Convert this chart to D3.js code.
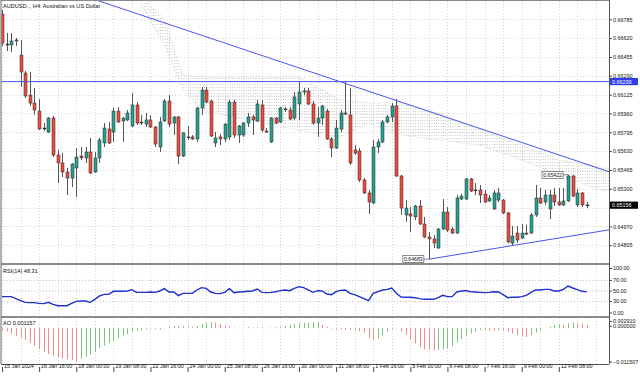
<!DOCTYPE html>
<html><head><meta charset="utf-8">
<script src="https://cdn.jsdelivr.net/npm/d3@7/dist/d3.min.js"></script>
<style>
html,body{margin:0;padding:0;background:#fff;overflow:hidden}
svg{display:block}
text{font-family:"Liberation Sans",Arial,sans-serif}
</style></head><body>
<svg id="chart" width="640" height="378"></svg>
<script>
const symbolTitle = "AUDUSD.., H4:  Australian vs US Dollar";

const openP = [0.66831,0.66568,0.66560,0.66595,0.66472,0.66314,0.66121,0.66051,0.65981,0.65824,
0.65797,0.65920,0.65596,0.65526,0.65447,0.65394,0.65482,0.65587,0.65570,0.65622,
0.65447,0.65570,0.65701,0.65824,0.65797,0.65981,0.65894,0.65903,0.65850,0.66034,
0.65885,0.65867,0.65903,0.65841,0.65666,0.65894,0.66069,0.65876,0.65929,0.65587,
0.65754,0.65754,0.65736,0.66008,0.66165,0.66069,0.65701,0.65754,0.65736,0.65754,
0.66060,0.65771,0.65771,0.65876,0.65929,0.65894,0.66034,0.65806,0.65710,0.65920,
0.65885,0.65999,0.65990,0.65920,0.66043,0.66148,0.66157,0.66043,0.65876,0.65920,
0.65981,0.65736,0.65657,0.65824,0.65964,0.65946,0.65640,0.65631,0.65377,0.65263,
0.65175,0.65666,0.65710,0.65885,0.65929,0.66025,0.65412,0.65070,0.65079,0.65053,
0.65149,0.64991,0.64877,0.64860,0.64781,0.64947,0.65096,0.64947,0.64912,0.65210,
0.65210,0.65386,0.65289,0.65289,0.65254,0.65193,0.65123,0.65201,0.65201,0.65088,
0.64824,0.64912,0.64868,0.64912,0.64912,0.65070,0.65219,0.65184,0.65123,0.65245,
0.65184,0.65158,0.65193,0.65412,0.65158,0.65263,0.65158];
const highP = [0.66866,0.66665,0.66665,0.66621,0.66604,0.66332,0.66323,0.66183,0.66087,0.65876,
0.65929,0.65938,0.65640,0.65613,0.65482,0.65526,0.65657,0.65666,0.65666,0.65745,
0.65622,0.65745,0.65876,0.65885,0.66008,0.66016,0.65929,0.65990,0.66139,0.66060,
0.65946,0.65964,0.65946,0.65850,0.65929,0.66087,0.66121,0.65938,0.65938,0.65797,
0.65850,0.65771,0.66016,0.66192,0.66192,0.66078,0.65797,0.65780,0.65876,0.66078,
0.66078,0.65859,0.65885,0.65964,0.65946,0.66078,0.66078,0.65832,0.65929,0.65929,
0.66016,0.66016,0.66016,0.66148,0.66235,0.66183,0.66183,0.66069,0.66016,0.66034,
0.65999,0.65754,0.65903,0.65990,0.66235,0.66183,0.65683,0.65657,0.65394,0.65289,
0.65727,0.65736,0.65903,0.65946,0.66051,0.66087,0.65420,0.65201,0.65140,0.65158,
0.65201,0.65053,0.64921,0.64895,0.64956,0.65210,0.65140,0.64965,0.65245,0.65254,
0.65394,0.65394,0.65350,0.65333,0.65289,0.65245,0.65289,0.65306,0.65210,0.65096,
0.64974,0.64974,0.64991,0.64983,0.65088,0.65333,0.65306,0.65289,0.65289,0.65306,
0.65306,0.65306,0.65422,0.65420,0.65298,0.65271,0.65184];
const lowP = [0.66551,0.66507,0.66498,0.66551,0.66192,0.66095,0.66025,0.65946,0.65815,0.65806,
0.65789,0.65578,0.65350,0.65403,0.65245,0.65315,0.65228,0.65552,0.65526,0.65429,
0.65438,0.65526,0.65666,0.65692,0.65710,0.65876,0.65710,0.65894,0.65841,0.65859,
0.65859,0.65841,0.65832,0.65666,0.65622,0.65885,0.65841,0.65771,0.65517,0.65578,
0.65727,0.65727,0.65710,0.65946,0.66051,0.65754,0.65666,0.65683,0.65710,0.65727,
0.65745,0.65701,0.65754,0.65841,0.65771,0.65885,0.65797,0.65789,0.65701,0.65867,
0.65876,0.65973,0.65903,0.65903,0.65903,0.66121,0.66034,0.65859,0.65754,0.65859,
0.65727,0.65578,0.65648,0.65797,0.65946,0.65508,0.65596,0.65359,0.65254,0.65079,
0.65166,0.65613,0.65701,0.65876,0.65885,0.65403,0.65070,0.65009,0.64921,0.65026,
0.64983,0.64868,0.64683,0.64781,0.64772,0.64938,0.64921,0.64903,0.64903,0.65201,
0.65201,0.65271,0.65245,0.65175,0.65175,0.65184,0.65114,0.65184,0.65079,0.64824,
0.64798,0.64824,0.64860,0.64895,0.64903,0.65053,0.65166,0.65158,0.65035,0.65149,
0.65149,0.65149,0.65184,0.65228,0.65140,0.65140,0.65131];
const closeP = [0.66577,0.66560,0.66595,0.66604,0.66323,0.66113,0.66051,0.65990,0.65824,0.65832,
0.65920,0.65596,0.65526,0.65447,0.65394,0.65517,0.65578,0.65570,0.65622,0.65438,
0.65570,0.65727,0.65832,0.65701,0.65981,0.65885,0.65920,0.65964,0.66034,0.65876,
0.65876,0.65903,0.65841,0.65692,0.65885,0.66069,0.65867,0.65929,0.65587,0.65789,
0.65750,0.65736,0.66008,0.66165,0.66060,0.65762,0.65745,0.65736,0.65867,0.66060,
0.65771,0.65850,0.65876,0.65929,0.65903,0.66043,0.65815,0.65797,0.65920,0.65876,
0.66008,0.65995,0.65911,0.66104,0.66148,0.66157,0.66043,0.65876,0.65920,0.66025,
0.65736,0.65657,0.65832,0.65964,0.65955,0.65526,0.65613,0.65377,0.65263,0.65184,
0.65666,0.65710,0.65885,0.65929,0.66025,0.65412,0.65131,0.65131,0.65061,0.65149,
0.64991,0.64877,0.64860,0.64824,0.64947,0.65096,0.64938,0.64912,0.65219,0.65236,
0.65386,0.65280,0.65285,0.65245,0.65184,0.65219,0.65263,0.65263,0.65088,0.64833,
0.64886,0.64851,0.64912,0.64903,0.65070,0.65219,0.65175,0.65245,0.65245,0.65184,
0.65158,0.65193,0.65412,0.65236,0.65263,0.65158,0.65156];

const rsi14 = [39.3,39.3,39.3,35.5,31.8,28.6,28,28,26.7,26.1,
28.6,24.9,22.3,22.3,22.3,26.7,30.5,31.1,31.1,28.6,
34.3,40.6,43.7,43.7,49.4,49.4,49.4,50,52.5,47.5,
47.5,47.5,48.1,47.5,50,54.4,48.1,48.1,41.2,45.6,
45.6,45.6,51.9,56.3,55,48.1,45.6,45,47.5,54.4,
46.9,48.1,48.7,49.4,50,53.8,47.5,46.9,47.5,48.7,
50.6,51.9,50.6,55,58.1,56.3,51.9,47.5,50.6,50,
44.4,43.1,48.7,51.2,51.9,45.6,43.1,39.3,35.5,31.8,
45.6,48.7,51.9,53.1,55.7,45.6,38.7,38.1,38.1,37.4,
35.5,34.3,34.3,34.3,37.4,41.8,39.3,39.3,48.1,50,
50.6,48.7,48.1,47.5,46.9,47.5,48.7,48.1,43.1,37.4,
38.1,38.1,39.3,41.8,47.5,51.9,51.9,53.1,53.1,50,
50,53.1,59.4,55.7,52.5,49.4,48.31];

const aoVals = [-0.00085,-0.0012,-0.002,-0.0026,-0.0032,-0.004,-0.0051,-0.006,-0.0072,-0.008,
-0.0088,-0.0094,-0.0099,-0.0104,-0.0106,-0.0108,-0.011507,-0.0104,-0.0097,-0.0089,
-0.008,-0.0068,-0.006,-0.0051,-0.0043,-0.0034,-0.0026,-0.002,-0.0012,-0.0009,
-0.0006,-0.0004,-0.0003,-0.0004,-0.0005,-0.0001,0.0005,0.00075,0.00086,0.00075,
0.0006,0.0004,0.00075,0.00143,0.0019,0.0021,0.0019,0.0014,0.0009,0.0005,
0.0002,0.0001,0.0002,0.0003,0.0002,0.0003,0.0002,0.0001,0.0002,0.0003,
0.0005,0.0008,0.0011,0.0014,0.0017,0.0018,0.0019,0.0020,0.00205,0.0011,
0.0005,-0.0002,-0.0005,-0.0004,-0.0006,-0.0007,-0.0006,-0.001,-0.0016,-0.0034,
-0.004,-0.0036,-0.0023,-0.0012,-0.0004,-0.0001,-0.0012,-0.0023,-0.0038,-0.0052,
-0.0065,-0.0072,-0.0074,-0.0077,-0.0074,-0.0072,-0.0069,-0.0061,-0.0049,-0.0038,
-0.0027,-0.0018,-0.0012,-0.0006,-0.0007,-0.0008,-0.0009,-0.0006,-0.0009,-0.0012,
-0.0018,-0.0023,-0.0027,-0.0031,-0.0023,-0.0015,-0.0006,0.0000,0.0005,0.0011,
0.0013,0.0011,0.0017,0.0019,0.0017,0.0016,0.001157];

const priceTicks = [0.66785,0.66620,0.66455,0.66290,0.66125,0.65960,0.65795,0.65630,0.65465,0.65300,0.65135,0.64970,0.64805];
const rsiTicks = [100,70,50,30,0];
const rsiLevels = [70,50,30];
const aoTicks = [0.002910,0.000000,-0.011507];
const hLevel = 0.66239;
const resistance = [{i:20,p:0.66958},{i:126,p:0.65515}];
const support = [{i:92,p:0.64683},{i:126,p:0.64908}];
const markLabels = [{i:92,p:0.64683,text:"0.64683"},{i:122,p:0.65422,text:"0.65422"}];
const cloudBars  = [30,35,39,43,51,64,73,79,86,94,103,112,120,129,131];
const spanUpper  = [0.66998,0.66779,0.66297,0.66279,0.66279,0.66279,0.66078,0.66051,0.66051,0.65964,0.65815,0.65683,0.65552,0.65491,0.65491];
const spanLower  = [0.66910,0.66560,0.66165,0.65990,0.65920,0.65815,0.65754,0.65876,0.65771,0.65727,0.65683,0.65552,0.65420,0.65289,0.65289];

// ---- layout
const L = 1, R = 609;
const mainTop = 1, mainBot = 263, rsiTop = 265, rsiBot = 316, aoTop = 318, aoBot = 364;
const n = closeP.length;
const times = [];
let t = Date.UTC(2024,0,15,8);
while (times.length < n) { const d = new Date(t); const wd = d.getUTCDay(); if (wd !== 0 && wd !== 6) times.push(d); t += 4*3600e3; }
const fmtFirst = d3.utcFormat("%-d %b %Y"), fmtT = d3.utcFormat("%-d %b %H:%M");

const x = d3.scaleLinear().domain([0, n-1]).range([2, 2 + 4.64*(n-1)]);
const y = d3.scaleLinear().domain([0.646757, 0.669541]).range([260, 0]);
const yR = d3.scaleLinear().domain([0, 100]).range([317.5, 264.5]);
const yA = d3.scaleLinear().domain([-0.011507, 0.00291]).range([362, 319.6]);

const svg = d3.select("#chart");
const defs = svg.append("defs");
[["cMain",mainTop,mainBot],["cRsi",rsiTop,rsiBot],["cAo",aoTop,aoBot]].forEach(([id,a,b])=>{
  defs.append("clipPath").attr("id",id).append("rect").attr("x",L+0.5).attr("y",a).attr("width",R-L-0.5).attr("height",b-a);
});
const pat = defs.append("pattern").attr("id","hatch").attr("width",2.32).attr("height",3).attr("patternUnits","userSpaceOnUse");
pat.append("rect").attr("x",0).attr("y",0).attr("width",0.9).attr("height",1).attr("fill","#c4c4c4");

svg.append("rect").attr("width",640).attr("height",378).attr("fill","#fff");

const gridC = "#d6d6d6";
// vertical grid
const gGrid = svg.append("g");
d3.range(0, n+4, 4).forEach(i=>{
  const xx = Math.round(x(i))+0.5;
  if (xx > R) return;
  [[mainTop,mainBot],[rsiTop,rsiBot],[aoTop,aoBot]].forEach(([a,b])=>{
    gGrid.append("line").attr("x1",xx).attr("x2",xx).attr("y1",a).attr("y2",b)
      .attr("stroke",gridC).attr("stroke-dasharray","1,2");
  });
});
priceTicks.forEach(p=>{
  const yy = Math.round(y(p))+0.5;
  gGrid.append("line").attr("x1",L).attr("x2",R).attr("y1",yy).attr("y2",yy).attr("stroke",gridC).attr("stroke-dasharray","1,2");
});

// ---- main pane
const gMain = svg.append("g").attr("clip-path","url(#cMain)");
const cloud = cloudBars.map((b,k)=>({i:b,u:spanUpper[k],l:spanLower[k]}));
gMain.append("path").datum(cloud)
  .attr("d", d3.area().x(d=>x(d.i)).y0(d=>y(d.l)).y1(d=>y(d.u)))
  .attr("fill","url(#hatch)");
["u","l"].forEach(k=>{
  gMain.append("path").datum(cloud).attr("d", d3.line().x(d=>x(d.i)).y(d=>y(d[k])))
    .attr("fill","none").attr("stroke","#c8c8c8").attr("stroke-width",0.8).attr("stroke-dasharray","1,1.5");
});

const bull = "#26a08f", bear = "#ee4b3e";
const bars = d3.range(n).map(i=>({i,o:openP[i],h:highP[i],l:lowP[i],c:closeP[i]}));
gMain.selectAll("line.wick").data(bars).join("line").attr("class","wick")
  .attr("x1",d=>Math.round(x(d.i))+0.5).attr("x2",d=>Math.round(x(d.i))+0.5)
  .attr("y1",d=>y(d.h)).attr("y2",d=>y(d.l)).attr("stroke","#555").attr("stroke-width",1);
gMain.selectAll("rect.body").data(bars).join("rect").attr("class","body")
  .attr("x",d=>Math.round(x(d.i))-1).attr("width",3)
  .attr("y",d=>y(Math.max(d.o,d.c)))
  .attr("height",d=>Math.max(0.8, Math.abs(y(d.o)-y(d.c))))
  .attr("fill",d=>Math.abs(y(d.o)-y(d.c))<1 ? "#222" : (d.c>=d.o?bull:bear))
  .attr("stroke","#2a2a2a").attr("stroke-width",0.5);

const blue = "#4a56f2";
gMain.append("line").attr("x1",L).attr("x2",R).attr("y1",y(hLevel)).attr("y2",y(hLevel)).attr("stroke",blue).attr("stroke-width",1);
function ray(a,b,startI){
  const iEnd = x.invert(R);
  const f = i => a.p + (b.p-a.p)*(i-a.i)/(b.i-a.i);
  gMain.append("line").attr("x1",x(startI)).attr("y1",y(f(startI))).attr("x2",x(iEnd)).attr("y2",y(f(iEnd)))
    .attr("stroke",blue).attr("stroke-width",1);
}
ray(resistance[0],resistance[1],resistance[0].i);
ray(support[0],support[1],support[0].i);

markLabels.forEach(m=>{
  const xr = x(m.i)-5, yy = y(m.p);
  svg.append("line").attr("x1",xr).attr("x2",x(m.i)).attr("y1",yy).attr("y2",yy).attr("stroke","#444").attr("stroke-width",0.6);
  svg.append("rect").attr("x",xr-21).attr("y",yy-3.5).attr("width",21).attr("height",7)
    .attr("fill","#fff").attr("stroke","#444").attr("stroke-width",0.6);
  svg.append("text").attr("x",xr-10.5).attr("y",yy+1.8).attr("text-anchor","middle")
    .attr("font-size","5.2px").attr("fill","#111").text(m.text);
});

svg.append("text").attr("x",3).attr("y",8).attr("font-size","5.6px").attr("fill","#111").text(symbolTitle);

// ---- RSI pane
const gR = svg.append("g").attr("clip-path","url(#cRsi)");
rsiLevels.forEach(v=>{
  gR.append("line").attr("x1",L).attr("x2",R).attr("y1",yR(v)).attr("y2",yR(v)).attr("stroke","#bdbdbd").attr("stroke-dasharray","1,2");
});
gR.append("path").datum(rsi14).attr("d", d3.line().x((d,i)=>x(i)).y(d=>yR(d)))
  .attr("fill","none").attr("stroke","#1f2fd0").attr("stroke-width",1.4);
svg.append("text").attr("x",3).attr("y",273).attr("font-size","5.6px").attr("fill","#111")
  .text("RSI(14) " + d3.format(".2f")(rsi14[n-1]));

// ---- AO pane
const gA = svg.append("g").attr("clip-path","url(#cAo)");
gA.selectAll("line.ao").data(aoVals).join("line").attr("class","ao")
  .attr("x1",(d,i)=>Math.round(x(i))+0.5).attr("x2",(d,i)=>Math.round(x(i))+0.5)
  .attr("y1",yA(0)).attr("y2",d=>yA(d))
  .attr("stroke",(d,i)=> (i>0 && d>aoVals[i-1]) ? "#7cc47c" : "#f28b8b").attr("stroke-width",1);
svg.append("text").attr("x",3).attr("y",325).attr("font-size","5.6px").attr("fill","#111")
  .text("AO " + d3.format(".6f")(aoVals[n-1]));

// ---- frames
const frame = svg.append("g");
frame.append("line").attr("x1",L).attr("x2",L).attr("y1",0).attr("y2",aoBot).attr("stroke","#666");
frame.append("line").attr("x1",L).attr("x2",R).attr("y1",0.5).attr("y2",0.5).attr("stroke","#888");
frame.append("line").attr("x1",L).attr("x2",R).attr("y1",264).attr("y2",264).attr("stroke","#8a8a8a").attr("stroke-width",2);
frame.append("line").attr("x1",L).attr("x2",R).attr("y1",317).attr("y2",317).attr("stroke","#8a8a8a").attr("stroke-width",2);

// ---- axes
const fs = "5.4px";
const shownPrice = priceTicks.filter(p => Math.abs(y(p)-y(closeP[n-1]))>3);
const axP = svg.append("g").attr("transform",`translate(${R},0)`)
  .call(d3.axisRight(y).tickValues(shownPrice).tickFormat(d3.format(".5f")).tickSize(3).tickPadding(1));
axP.select(".domain").remove();
const axR = svg.append("g").attr("transform",`translate(${R},0)`)
  .call(d3.axisRight(yR).tickValues(rsiTicks).tickFormat(d3.format(".2f")).tickSize(3).tickPadding(1));
axR.select(".domain").remove();
axR.selectAll(".tick").attr("transform", d => `translate(0,${Math.min(Math.max(yR(d), rsiTop+3.5), rsiBot-3)})`);
const axA = svg.append("g").attr("transform",`translate(${R},0)`)
  .call(d3.axisRight(yA).tickValues(aoTicks).tickFormat(d3.format(".6f")).tickSize(3).tickPadding(1));
axA.select(".domain").remove();
const aoPos = {0:321.5, 1:326.3, 2:362};
axA.selectAll(".tick").attr("transform", (d,k) => `translate(0,${aoPos[k]})`);
const axT = svg.append("g").attr("transform",`translate(0,${aoBot})`)
  .call(d3.axisBottom(x).tickValues(d3.range(0,n,8)).tickFormat(i => i===0 ? fmtFirst(times[i]) : fmtT(times[i])).tickSize(4).tickPadding(1));
axT.select(".domain").remove();
axT.selectAll(".tick text").attr("text-anchor","start").attr("dx","1.5").attr("dy","-0.9em").attr("y",9.2);
axT.selectAll(".tick line").attr("y1",3).attr("y2",8);
[axP,axR,axA,axT].forEach(a=>{
  a.selectAll("text").attr("font-size",fs).attr("fill","#111").attr("font-family",'"Liberation Sans",Arial,sans-serif');
  a.selectAll(".tick line").attr("stroke","#444");
});
frame.append("line").attr("x1",R+0.5).attr("x2",R+0.5).attr("y1",0).attr("y2",aoBot).attr("stroke","#555");
frame.append("line").attr("x1",L).attr("x2",R).attr("y1",aoBot+0.5).attr("y2",aoBot+0.5).attr("stroke","#555");

// price markers on right axis
function axisTag(p, bg){
  const yy = y(p);
  svg.append("rect").attr("x",R+1).attr("y",yy-3.6).attr("width",28).attr("height",7.2).attr("fill",bg);
  svg.append("text").attr("x",R+3).attr("y",yy+1.9).attr("font-size",fs).attr("fill","#fff").text(d3.format(".5f")(p));
}
axisTag(hLevel, "#2f3cf0");
axisTag(closeP[n-1], "#000");
</script>
</body></html>
